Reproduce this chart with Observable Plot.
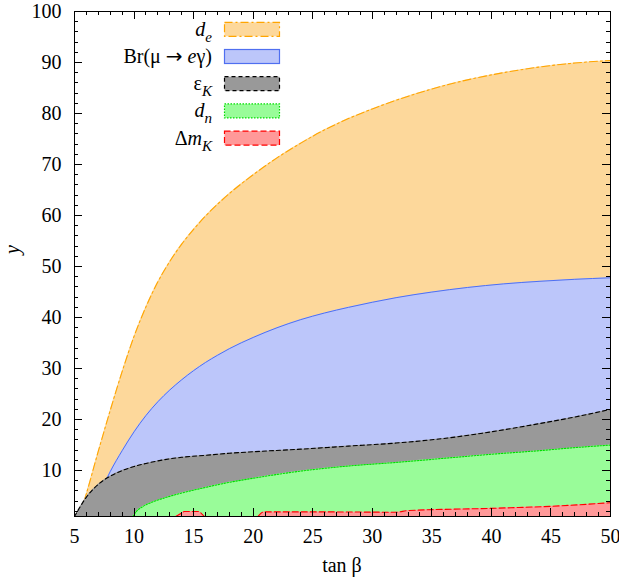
<!DOCTYPE html>
<html>
<head>
<meta charset="utf-8">
<script src="https://cdn.jsdelivr.net/npm/d3@7"></script>
<script src="https://cdn.jsdelivr.net/npm/@observablehq/plot@0.6"></script>
<style>
  html, body { margin: 0; padding: 0; background: #fff; }
</style>
</head>
<body>
<script>
// ---- data ----
const xTicks = [5, 10, 15, 20, 25, 30, 35, 40, 45, 50];
const yTicks = [10, 20, 30, 40, 50, 60, 70, 80, 90, 100];
const xDomain = [5, 50];
const yDomain = [1, 100];

// d_e (orange)
const deT = [5.4, 6, 7, 8, 9, 10, 11, 12, 13, 14, 15, 16, 17, 18, 20, 22, 24, 26, 28, 30, 32, 35, 38, 41, 44, 47, 50];
const deV = [1, 5.5, 13.8, 21.8, 29.4, 36.3, 42.1, 47.0, 51.0, 54.4, 57.3, 59.9, 62.2, 64.3, 68.0, 71.3, 74.2, 76.8, 79.0, 80.9, 82.6, 84.8, 86.6, 88.0, 89.1, 89.9, 90.4];
// Br(mu -> e gamma) (blue)
const brT = [6.3, 7, 8, 9, 10, 11, 12, 13, 14, 15, 16, 17, 18, 20, 22, 24, 26, 28, 30, 32, 35, 38, 41, 44, 47, 50];
const brV = [1, 4.8, 9.8, 13.9, 17.6, 20.8, 23.5, 25.8, 27.8, 29.6, 31.2, 32.6, 33.9, 36.1, 38.0, 39.6, 40.9, 42.0, 43.0, 43.9, 45.0, 45.9, 46.6, 47.1, 47.5, 47.8];
// epsilon_K (grey)
const ekT = [5, 5.5, 6, 6.5, 7, 7.5, 8, 9, 10, 11, 12, 13, 14, 16, 18, 20, 24, 28, 32, 36, 40, 44, 47, 50];
const ekV = [1, 3.0, 4.8, 6.2, 7.3, 8.2, 8.9, 10.0, 10.8, 11.4, 11.9, 12.3, 12.6, 13.0, 13.4, 13.7, 14.2, 14.8, 15.4, 16.3, 17.6, 19.2, 20.5, 22.0];
// d_n (green)
const dnT = [9.9, 10.2, 10.7, 11.5, 12.5, 14, 16, 18, 20, 24, 28, 32, 36, 40, 44, 47, 50];
const dnV = [1, 2.0, 2.9, 3.8, 4.6, 5.6, 6.7, 7.7, 8.5, 9.9, 10.9, 11.6, 12.4, 13.2, 13.9, 14.5, 15.0];
// Delta m_K (red), two pieces
const dmAT = [13.5, 14.2, 15.5, 15.9];
const dmAV = [1, 1.98, 1.98, 1];
const dmBT = [20.4, 20.9, 26, 32, 33, 40, 45, 50];
const dmBV = [1, 1.9, 1.9, 1.84, 2.15, 2.6, 3.0, 3.7];

const SERIF = '"Liberation Serif", "Times New Roman", Tinos, Times';

const series = [
  {key: "de", t: deT, v: deV, fill: "#fdd89b", stroke: "#ffa500", dash: "8,3,2,3", width: 1.1},
  {key: "br", t: brT, v: brV, fill: "#bcc6fa", stroke: "#4f6ff0", dash: null, width: 1},
  {key: "ek", t: ekT, v: ekV, fill: "#999999", stroke: "#000000", dash: "4,3", width: 1.1},
  {key: "dn", t: dnT, v: dnV, fill: "#99fc99", stroke: "#00dd00", dash: "1.5,1.5", width: 1.1},
  {key: "dmA", t: dmAT, v: dmAV, fill: "#ff9999", stroke: "#ff0000", dash: "6,3", width: 1.1},
  {key: "dmB", t: dmBT, v: dmBV, fill: "#ff9999", stroke: "#ff0000", dash: "6,3", width: 1.1}
];
const rows = s => s.t.map((t, i) => ({t, v: s.v[i]}));

const marks = [];
for (const s of series) {
  const curve = s.key === "dmA" ? "linear" : "monotone-x";
  marks.push(Plot.areaY(rows(s), {x: "t", y1: yDomain[0], y2: "v", fill: s.fill, curve, clip: true}));
  marks.push(Plot.line(rows(s), {x: "t", y: "v", stroke: s.stroke, strokeWidth: s.width, strokeDasharray: s.dash, curve, clip: true}));
}
marks.push(Plot.frame({stroke: "black", strokeWidth: 1}));
marks.push(Plot.axisX(xTicks, {tickSize: 0, tickPadding: 12, fontSize: 20, label: null}));
marks.push(Plot.axisY(yTicks, {tickSize: 0, tickPadding: 13, fontSize: 20, label: null}));

const chart = Plot.plot({
  width: 619, height: 584,
  marginLeft: 74, marginRight: 9, marginTop: 11, marginBottom: 68,
  style: {fontSize: "20px", color: "black", background: "white"},
  x: {domain: xDomain},
  y: {domain: yDomain},
  marks
});
document.body.appendChild(chart);

(function () {
  const svg = d3.select(chart);
  const sx = chart.scale("x"), sy = chart.scale("y");
  const X = v => sx.apply(v), Y = v => sy.apply(v);
  const fLeft = X(xDomain[0]), fRight = X(xDomain[1]);
  const fTop = Y(yDomain[1]), fBottom = Y(yDomain[0]);

  // inward ticks on all four sides
  const g = svg.append("g").attr("stroke", "black").attr("stroke-width", 1);
  for (let v = xDomain[0]; v <= xDomain[1]; v += 1) {
    const L = (v % 5 === 0) ? 8 : 4;
    const x = Math.round(X(v)) + 0.5;
    g.append("line").attr("x1", x).attr("x2", x).attr("y1", fBottom).attr("y2", fBottom - L);
    g.append("line").attr("x1", x).attr("x2", x).attr("y1", fTop).attr("y2", fTop + L);
  }
  for (let v = 2; v <= 100; v += 2) {
    const L = (v % 10 === 0) ? 8 : 4;
    const y = Math.round(Y(v)) + 0.5;
    g.append("line").attr("y1", y).attr("y2", y).attr("x1", fLeft).attr("x2", fLeft + L);
    g.append("line").attr("y1", y).attr("y2", y).attr("x1", fRight).attr("x2", fRight - L);
  }

  // axis titles
  svg.append("text").attr("x", (fLeft + fRight) / 2).attr("y", 572)
    .attr("text-anchor", "middle").attr("font-size", 20).attr("fill", "black").text("tan β");
  svg.append("text").attr("transform", `translate(19,${(fTop + fBottom) / 2 - 14}) rotate(-90)`)
    .attr("text-anchor", "middle").attr("font-size", 20).attr("fill", "black")
    .attr("font-style", "italic").text("y");

  // legend
  const legendItems = [
    {s: series[0], parts: [["d", "i"], ["e", "sub"]]},
    {s: series[1], parts: [["Br(μ ", "n"], ["→", "arrow"], [" ", "n"], ["e", "i"], ["γ)", "n"]]},
    {s: series[2], parts: [["ε", "n"], ["K", "sub"]]},
    {s: series[3], parts: [["d", "i"], ["n", "sub"]]},
    {s: series[4], parts: [["Δ", "n"], ["m", "i"], ["K", "sub"]]}
  ];
  const lg = svg.append("g");
  legendItems.forEach((item, i) => {
    const cy = 29.3 + i * 27.2;
    lg.append("rect").attr("x", fLeft + 150.5).attr("y", cy - 7).attr("width", 55).attr("height", 14)
      .attr("fill", item.s.fill).attr("stroke", item.s.stroke).attr("stroke-width", 1.2)
      .attr("stroke-dasharray", item.s.dash);
    const t = lg.append("text").attr("x", fLeft + 138).attr("y", cy + 6.5)
      .attr("text-anchor", "end").attr("font-size", 20).attr("fill", "black");
    for (const [str, kind] of item.parts) {
      const ts = t.append("tspan").text(str);
      if (kind === "i") ts.attr("font-style", "italic");
      if (kind === "sub") ts.attr("font-style", "italic").attr("font-size", 15).attr("dy", 6);
      if (kind === "arrow") ts.attr("class", "arrow");
    }
  });

  // force the serif face everywhere (inline, important), arrow in DejaVu Sans
  const setFont = (node, fam) => {
    node.setAttribute("font-family", fam);
    node.style.setProperty("font-family", fam, "important");
  };
  setFont(chart, SERIF);
  chart.querySelectorAll("g, text, tspan").forEach(n => {
    if (n.tagName === "g" && !n.hasAttribute("font-family")) return;
    setFont(n, SERIF);
  });
  chart.querySelectorAll("tspan.arrow").forEach(n => setFont(n, '"DejaVu Sans"'));
})();
</script>
</body>
</html>
